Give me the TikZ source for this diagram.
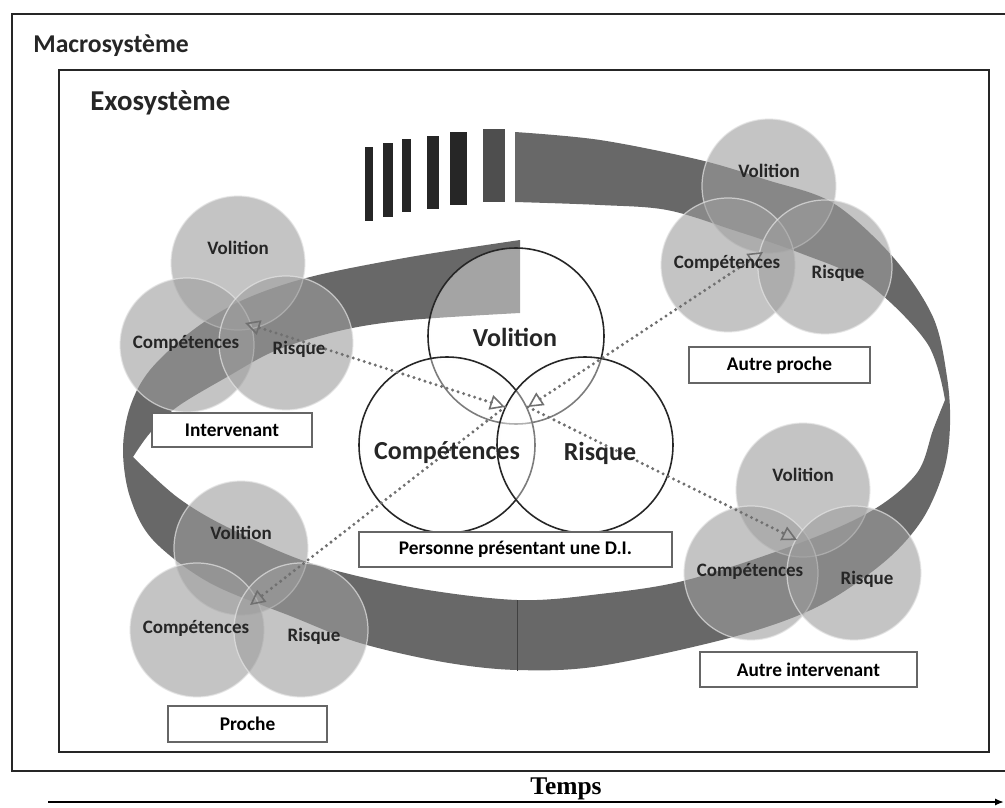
\documentclass[tikz,border=0pt]{standalone}
\usepackage{fontspec}
\setmainfont{Carlito}
\newfontfamily\zeitfont{Liberation Serif}
\usetikzlibrary{arrows.meta}
\usepackage{xcolor}
\definecolor{bandgrau}{RGB}{104,104,104}
\definecolor{balkengrau}{RGB}{38,38,38}
\definecolor{balkenhell}{RGB}{78,78,78}
\definecolor{kreisgrau}{RGB}{157,157,157}
\definecolor{pfeilgrau}{RGB}{112,112,112}
\pgfdeclareradialshading{glas}{\pgfpoint{0bp}{0bp}}{color(0bp)=(white); color(24bp)=(white); color(40bp)=(black!22); color(50bp)=(black!50)}

\tikzset{
  rahmen/.style={line width=1.3pt, black!85},
  kleinkreis/.style={fill=kreisgrau, fill opacity=0.6, draw=white!80!gray, draw opacity=0.7, line width=0.7pt},
  grosskreis/.style={draw=black!85, line width=0.9pt},
  kleinlabel/.style={font=\bfseries\fontsize{10.8}{12}\selectfont, text=black!85, inner sep=0pt},
  grosslabel/.style={font=\bfseries\fontsize{14.8}{16}\selectfont, text=black!85, inner sep=0pt},
  rolle/.style={draw=black!60, fill=white, line width=0.8pt, font=\bfseries\fontsize{11}{13}\selectfont, inner sep=0pt},
  pfeil/.style={draw=pfeilgrau, line width=1.9pt, line cap=round, dash pattern=on 0pt off 3.3pt}
}

\begin{document}
\begin{tikzpicture}[x=0.02cm,y=-0.02cm,>={Triangle[open,length=8.5pt,width=8.5pt,line width=0.9pt]}]
\useasboundingbox (0,0) rectangle (1005,808);

%Rahmen Macro- und Exosystem
\draw[rahmen] (1005,14) -- (12,14) -- (12,771) -- (1005,771);
\draw[rahmen, line width=1.1pt] (59,70) rectangle (989,752);
\node[anchor=west, inner sep=0pt, font=\bfseries\fontsize{14.6}{17}\selectfont, text=black!85] (macro) at (33,46) {Macrosystème};
\node[anchor=west, inner sep=0pt, font=\bfseries\fontsize{16.4}{19}\selectfont, text=black!85] (exo) at (90,103) {Exosystème};

%Spirale (Zeitband)
\fill[bandgrau] plot[smooth, tension=0.55] coordinates {(520,240) (410,257) (310,277) (243,300) (193,330) (150,370) (130,407) (123,450) (130,497) (153,540) (210,583) (293,617) (360,643) (443,662) (517,670) (600,666) (733,637) (817,607) (883,563) (922,520) (944,470) (950,425) (947,377) (933,317) (893,257) (833,203) (767,180) (700,160) (600,140) (515,132)}
  -- plot[smooth, tension=0.55] coordinates {(515,202) (600,205) (667,210) (733,230) (800,253) (867,283) (927,343) (945,400)}
  -- plot[smooth, tension=0.55] coordinates {(945,400) (933,430) (917,473) (873,510) (800,543) (687,580) (600,594) (517,600) (410,587) (310,563) (227,527) (177,497) (133,457)}
  -- plot[smooth, tension=0.55] coordinates {(133,457) (150,433) (177,407) (227,377) (277,350) (343,330) (410,320) (520,313)} -- cycle;
\draw[black!75, thin] (517,600) -- (517,671);

%Balken oben
\foreach \xa/\xb/\ya/\yb/\farbe in {365/373/147/221/balkengrau, 383/393/143/217/balkengrau, 402/411/139/212/balkengrau, 427/439/136/209/balkengrau, 450/467/132/205/balkengrau, 483/505/129/202/balkenhell}
  \fill[\farbe] (\xa,\ya) rectangle (\xb,\yb);

%kleine Kreise (Intervenant, Autre proche, Autre intervenant, Proche)
\foreach \n/\vx/\vy/\cx/\cy/\rx/\ry in {i/238/263/187/345/286/343, ap/769/186/728/265/825/267, ai/803/490/751/573/854/573, p/241/548/197/630/301/630}{
  \coordinate (\n V) at (\vx,\vy);
  \coordinate (\n C) at (\cx,\cy);
  \coordinate (\n R) at (\rx,\ry);
  \path[kleinkreis] (\n V) circle (67);
  \path[kleinkreis] (\n C) circle (67);
  \path[kleinkreis] (\n R) circle (67);
}

%grosse Kreise Mitte
\coordinate (zV) at (516,336);
\coordinate (zC) at (447,445);
\coordinate (zR) at (585,445);
\foreach \k in {zV,zC,zR}{
  \shade[shading=glas, opacity=0.4] (\k) circle (88);
  \draw[grosskreis] (\k) circle (88);
}

%Pfeile
\coordinate (hubL) at (505,407);
\coordinate (hubR) at (528,407);
\coordinate (ziel-i) at (245,323);
\coordinate (ziel-ap) at (763,252);
\coordinate (ziel-ai) at (797,540);
\coordinate (ziel-p) at (250,605);
\draw[pfeil, <->] (hubL) -- (ziel-i);
\draw[pfeil, <->] (hubR) -- (ziel-ap);
\draw[pfeil, ->] (hubR) -- (ziel-ai);
\draw[pfeil, ->] (hubL) -- (ziel-p);

%Beschriftungen
\foreach \n in {i,ap,ai,p}{
  \node[kleinlabel] (\n-vol) at ([shift={(0,-15)}]\n V) {Volition};
  \node[kleinlabel] (\n-comp) at ([shift={(-1,-2)}]\n C) {Compétences};
  \node[kleinlabel] (\n-ris) at ([shift={(13,6)}]\n R) {Risque};
}
\node[grosslabel] (z-vol) at (515,337) {Volition};
\node[grosslabel] (z-comp) at (447,453) {Compétences};
\node[grosslabel] (z-ris) at (600,453) {Risque};

%Rollen
\node[rolle, minimum width=6.26cm, minimum height=0.70cm] (personne) at (515.5,549.5) {Personne présentant une D.I.};
\node[rolle, minimum width=3.2cm, minimum height=0.68cm] (interv) at (232,430) {Intervenant};
\node[rolle, minimum width=3.62cm, minimum height=0.72cm] (aproche) at (779.5,365) {Autre proche};
\node[rolle, minimum width=4.34cm, minimum height=0.70cm] (ainterv) at (808.5,669.5) {Autre intervenant};
\node[rolle, minimum width=3.18cm, minimum height=0.72cm] (proche) at (247.5,724) {Proche};

%Zeitachse
\node[font=\zeitfont\bfseries\fontsize{14.5}{16}\selectfont, inner sep=0pt] (temps) at (566,789) {Temps};
\coordinate (zeitA) at (48,802);
\coordinate (zeitB) at (1004,802);
\draw[line width=1.1pt, -{Latex[length=5pt,width=4pt]}] (zeitA) -- (zeitB);

\end{tikzpicture}
\end{document}
